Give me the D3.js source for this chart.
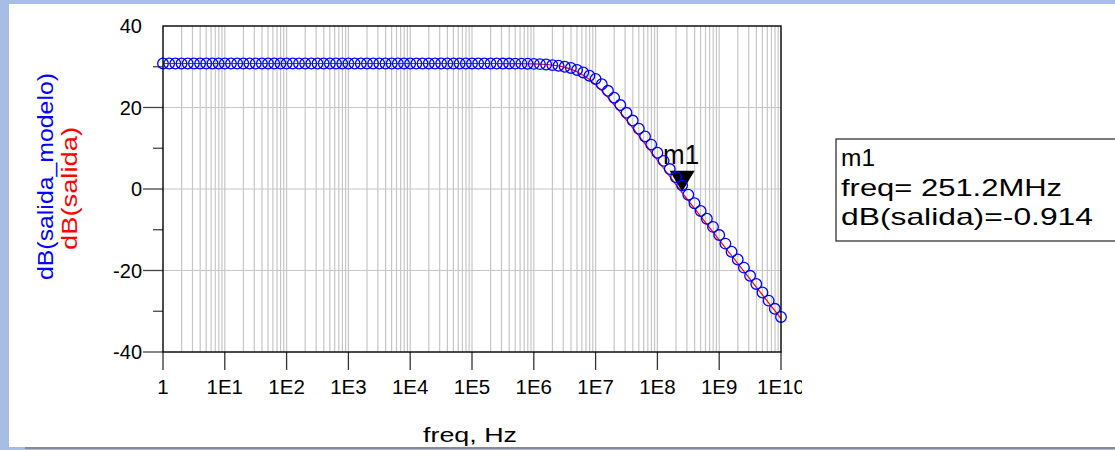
<!DOCTYPE html>
<html>
<head>
<meta charset="utf-8">
<script src="https://cdn.jsdelivr.net/npm/d3@7/dist/d3.min.js"></script>
<style>
  html, body { margin: 0; padding: 0; background: #a9bee6; }
  svg { display: block; }
  text { font-family: "Liberation Sans", Arial, sans-serif; }
</style>
</head>
<body>
<svg id="chart" width="1115" height="450"></svg>
<script>
// Sweep frequencies (Hz), 10 points per decade from 1 Hz to 10 GHz
const freq = [
  1e0, 1.259e0, 1.585e0, 1.995e0, 2.512e0, 3.162e0, 3.981e0, 5.012e0, 6.31e0, 7.943e0,
  1e1, 1.259e1, 1.585e1, 1.995e1, 2.512e1, 3.162e1, 3.981e1, 5.012e1, 6.31e1, 7.943e1,
  1e2, 1.259e2, 1.585e2, 1.995e2, 2.512e2, 3.162e2, 3.981e2, 5.012e2, 6.31e2, 7.943e2,
  1e3, 1.259e3, 1.585e3, 1.995e3, 2.512e3, 3.162e3, 3.981e3, 5.012e3, 6.31e3, 7.943e3,
  1e4, 1.259e4, 1.585e4, 1.995e4, 2.512e4, 3.162e4, 3.981e4, 5.012e4, 6.31e4, 7.943e4,
  1e5, 1.259e5, 1.585e5, 1.995e5, 2.512e5, 3.162e5, 3.981e5, 5.012e5, 6.31e5, 7.943e5,
  1e6, 1.259e6, 1.585e6, 1.995e6, 2.512e6, 3.162e6, 3.981e6, 5.012e6, 6.31e6, 7.943e6,
  1e7, 1.259e7, 1.585e7, 1.995e7, 2.512e7, 3.162e7, 3.981e7, 5.012e7, 6.31e7, 7.943e7,
  1e8, 1.259e8, 1.585e8, 1.995e8, 2.512e8, 3.162e8, 3.981e8, 5.012e8, 6.31e8, 7.943e8,
  1e9, 1.259e9, 1.585e9, 1.995e9, 2.512e9, 3.162e9, 3.981e9, 5.012e9, 6.31e9, 7.943e9,
  1e10
];

// dB(salida): measured output
const dbSalida = [
  30.8, 30.8, 30.8, 30.8, 30.8, 30.8, 30.8, 30.8, 30.8, 30.8,
  30.8, 30.8, 30.8, 30.8, 30.8, 30.8, 30.8, 30.8, 30.8, 30.8,
  30.8, 30.8, 30.8, 30.8, 30.8, 30.8, 30.8, 30.8, 30.8, 30.8,
  30.8, 30.8, 30.8, 30.8, 30.8, 30.8, 30.8, 30.8, 30.8, 30.8,
  30.8, 30.8, 30.8, 30.8, 30.8, 30.8, 30.8, 30.8, 30.8, 30.8,
  30.8, 30.8, 30.8, 30.8, 30.8, 30.79, 30.78, 30.77, 30.76, 30.74,
  30.70, 30.64, 30.55, 30.41, 30.20, 29.89, 29.43, 28.79, 27.94, 26.86,
  25.56, 24.07, 22.42, 20.66, 18.82, 16.92, 14.98, 13.03, 11.06, 9.07,
  7.08, 5.09, 3.09, 1.09, -0.914, -2.84, -4.77, -6.70, -8.63, -10.56,
  -12.49, -14.42, -16.35, -18.28, -20.21, -22.14, -24.07, -26.00, -27.93, -29.86,
  -31.79
];

// dB(salida_modelo): model output
const dbModelo = [
  30.8, 30.8, 30.8, 30.8, 30.8, 30.8, 30.8, 30.8, 30.8, 30.8,
  30.8, 30.8, 30.8, 30.8, 30.8, 30.8, 30.8, 30.8, 30.8, 30.8,
  30.8, 30.8, 30.8, 30.8, 30.8, 30.8, 30.8, 30.8, 30.8, 30.8,
  30.8, 30.8, 30.8, 30.8, 30.8, 30.8, 30.8, 30.8, 30.8, 30.8,
  30.8, 30.8, 30.8, 30.8, 30.8, 30.8, 30.8, 30.8, 30.8, 30.8,
  30.8, 30.8, 30.8, 30.8, 30.8, 30.79, 30.78, 30.77, 30.76, 30.74,
  30.70, 30.64, 30.55, 30.41, 30.25, 30.0, 29.7, 29.2, 28.6, 27.8,
  27.0, 25.7, 24.1, 22.4, 20.6, 18.7, 16.8, 14.8, 12.9, 10.9,
  8.9, 6.9, 4.9, 2.9, 0.9, -1.4, -3.5, -5.4, -7.3, -9.3,
  -11.3, -13.4, -15.4, -17.3, -19.3, -21.3, -23.3, -25.4, -27.4, -29.4,
  -31.4
];

const xTickValues = [1e0, 1e1, 1e2, 1e3, 1e4, 1e5, 1e6, 1e7, 1e8, 1e9, 1e10];
const xTickLabels = ["1", "1E1", "1E2", "1E3", "1E4", "1E5", "1E6", "1E7", "1E8", "1E9", "1E10"];
const yMajorTicks = [40, 20, 0, -20, -40];
const yMinorTicks = [30, 10, -10, -30];

// Marker m1
const markerName = "m1";
const markerFreq = 251.2e6;
const markerValue = -0.914;
const markerLines = ["m1", "freq= 251.2MHz", "dB(salida)=-0.914"];

const svg = d3.select("#chart");

// Slide background and white panel
svg.append("rect").attr("x", 0).attr("y", 0).attr("width", 1115).attr("height", 450).attr("fill", "#a7bde6");
svg.append("rect").attr("x", 9).attr("y", 4).attr("width", 1106).attr("height", 443).attr("fill", "#ffffff");
svg.append("line").attr("x1", 25).attr("x2", 1115).attr("y1", 448).attr("y2", 448)
  .attr("stroke", "#8a8a8a").attr("stroke-width", 2);

const plot = { left: 163, right: 781, top: 26, bottom: 352 };

const x = d3.scaleLog().domain([1, 1e10]).range([plot.left, plot.right]);
const y = d3.scaleLinear().domain([-40, 40]).range([plot.bottom, plot.top]);

// Vertical grid at every log tick
const gridX = x.ticks(100).filter(v => v > 1 && v < 1e10);
svg.append("g").selectAll("line").data(gridX).join("line")
  .attr("x1", d => x(d)).attr("x2", d => x(d))
  .attr("y1", plot.top).attr("y2", plot.bottom)
  .attr("stroke", "#c6c6c6").attr("stroke-width", 1.2);

// Horizontal grid at major values
svg.append("g").selectAll("line").data([20, 0, -20]).join("line")
  .attr("x1", plot.left).attr("x2", plot.right)
  .attr("y1", d => y(d)).attr("y2", d => y(d))
  .attr("stroke", "#c6c6c6").attr("stroke-width", 1.2);

// Y axis ticks and labels
const yAxis = svg.append("g");
yAxis.selectAll("line.maj").data(yMajorTicks.filter(d => d !== 40)).join("line")
  .attr("x1", plot.left - 20).attr("x2", plot.left)
  .attr("y1", d => y(d)).attr("y2", d => y(d))
  .attr("stroke", "#444").attr("stroke-width", 1.3);
yAxis.selectAll("line.min").data(yMinorTicks).join("line")
  .attr("x1", plot.left - 10).attr("x2", plot.left)
  .attr("y1", d => y(d)).attr("y2", d => y(d))
  .attr("stroke", "#444").attr("stroke-width", 1.3);
yAxis.selectAll("text").data(yMajorTicks).join("text")
  .attr("x", plot.left - 21).attr("y", d => y(d)).attr("dy", "0.35em")
  .attr("text-anchor", "end").attr("font-size", 20).attr("fill", "#000")
  .text(d => d);

// X axis ticks and labels
const xAxis = svg.append("g");
xAxis.selectAll("line").data(xTickValues).join("line")
  .attr("x1", d => x(d)).attr("x2", d => x(d))
  .attr("y1", plot.bottom).attr("y2", plot.bottom + 18)
  .attr("stroke", "#333").attr("stroke-width", 1.3);
svg.append("clipPath").attr("id", "xlabClip")
  .append("rect").attr("x", 0).attr("y", 360).attr("width", 802).attr("height", 50);
xAxis.append("g").attr("clip-path", "url(#xlabClip)")
  .selectAll("text").data(xTickValues).join("text")
  .attr("x", d => x(d)).attr("y", 394)
  .attr("text-anchor", "middle").attr("font-size", 20.5).attr("fill", "#000")
  .text((d, i) => xTickLabels[i]);

// Axis titles
svg.append("text").attr("x", 470).attr("y", 442).attr("text-anchor", "middle")
  .attr("font-size", 21).attr("textLength", 94).attr("lengthAdjust", "spacingAndGlyphs")
  .text("freq, Hz");
svg.append("text").attr("transform", "translate(53,176.5) rotate(-90)")
  .attr("text-anchor", "middle").attr("font-size", 22).attr("fill", "#0000ff")
  .attr("textLength", 207).attr("lengthAdjust", "spacingAndGlyphs")
  .text("dB(salida_modelo)");
svg.append("text").attr("transform", "translate(77,188.5) rotate(-90)")
  .attr("text-anchor", "middle").attr("font-size", 22).attr("fill", "#ff0000")
  .attr("textLength", 123).attr("lengthAdjust", "spacingAndGlyphs")
  .text("dB(salida)");

// Marker triangle and its name
const mx = x(markerFreq), my = y(markerValue);
svg.append("path")
  .attr("d", `M${mx - 12.5},${my - 22} L${mx + 12.5},${my - 22} L${mx},${my - 1} Z`)
  .attr("fill", "#000");
svg.append("text").attr("x", mx - 19).attr("y", my - 29)
  .attr("font-size", 27).attr("textLength", 36).attr("lengthAdjust", "spacingAndGlyphs")
  .text(markerName);

// Measured curve
const pts = freq.map((f, i) => ({ f, s: dbSalida[i], m: dbModelo[i] }));
svg.append("path").datum(pts)
  .attr("d", d3.line().x(d => x(d.f)).y(d => y(d.s)))
  .attr("fill", "none").attr("stroke", "#ff0000").attr("stroke-width", 1.2);

// Model points
svg.append("g").selectAll("circle").data(pts).join("circle")
  .attr("cx", d => x(d.f)).attr("cy", d => y(d.m)).attr("r", 5.3)
  .attr("fill", "none").attr("stroke", "#0000ff").attr("stroke-width", 1.3);

// Plot frame
svg.append("rect").attr("x", plot.left).attr("y", plot.top)
  .attr("width", plot.right - plot.left).attr("height", plot.bottom - plot.top)
  .attr("fill", "none").attr("stroke", "#000").attr("stroke-width", 1.4);

// Marker readout box
svg.append("rect").attr("x", 836).attr("y", 139).attr("width", 300).attr("height", 102)
  .attr("fill", "#fff").attr("stroke", "#333").attr("stroke-width", 1.3);
const readWidths = [34, 221, 252];
svg.append("g").selectAll("text").data(markerLines).join("text")
  .attr("x", 841).attr("y", (d, i) => 166 + i * 29.5)
  .attr("font-size", 24).attr("fill", "#000")
  .attr("textLength", (d, i) => readWidths[i]).attr("lengthAdjust", "spacingAndGlyphs")
  .text(d => d);
</script>
</body>
</html>
